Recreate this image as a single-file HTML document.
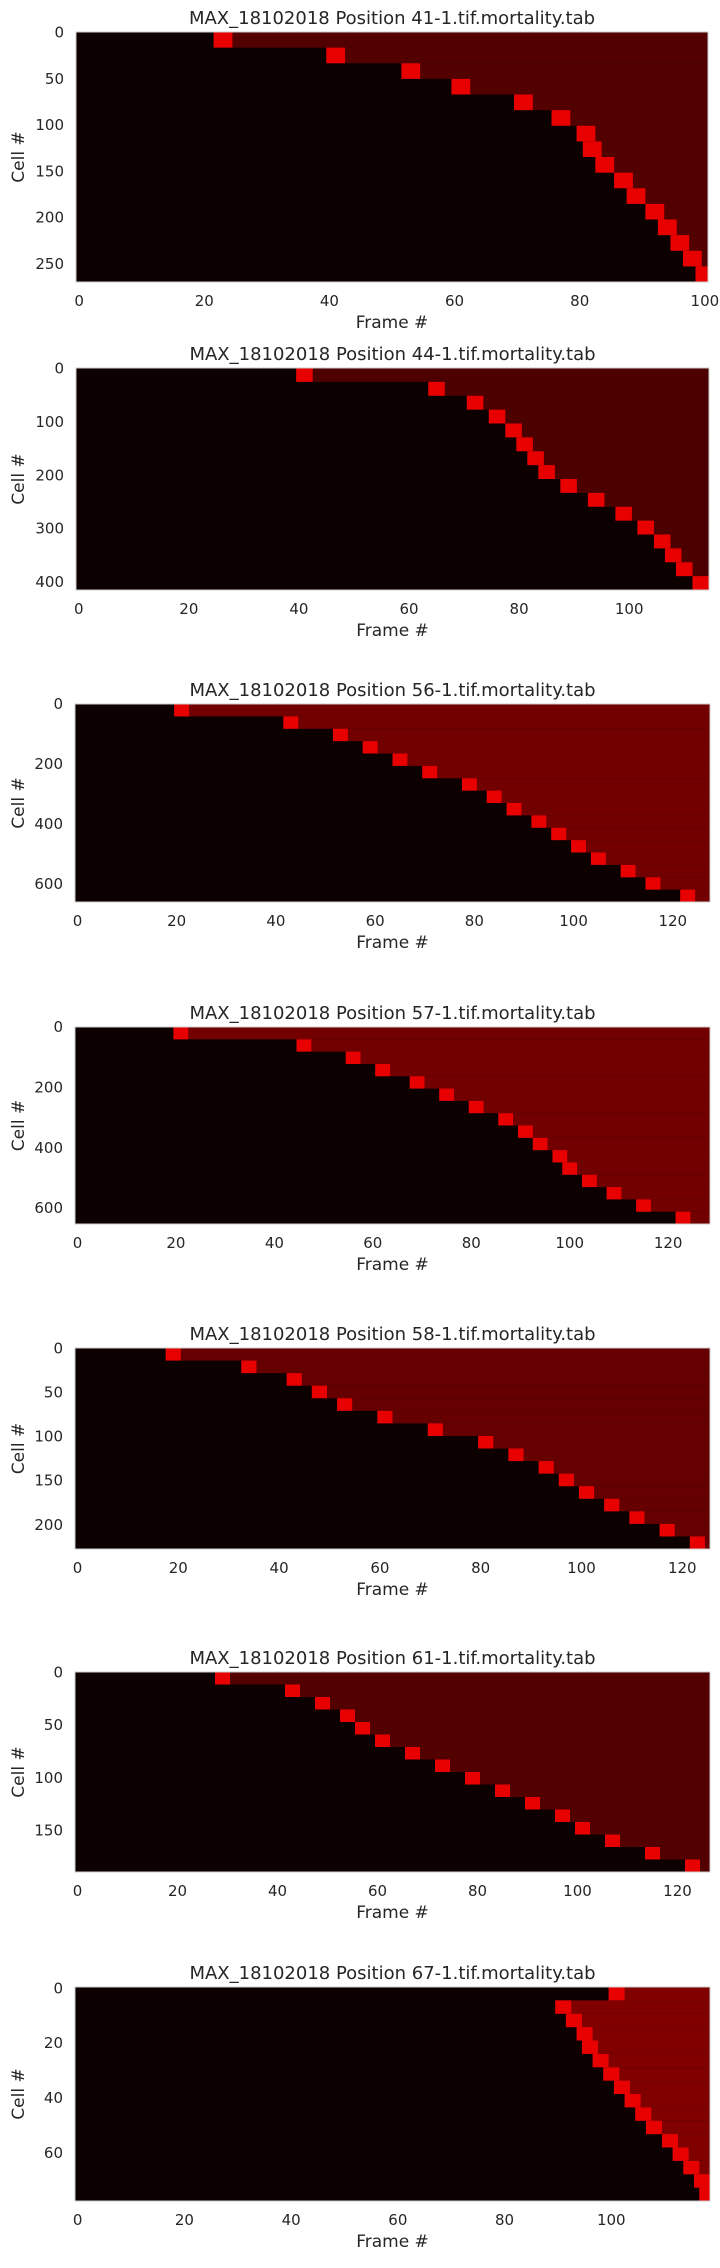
<!DOCTYPE html>
<html><head><meta charset="utf-8"><style>
html,body{margin:0;padding:0;background:#fff;}
svg{display:block;}
text{font-family:"DejaVu Sans","Liberation Sans",sans-serif;fill:#262626;}
</style></head><body>
<svg id="fig" width="720" height="2268" viewBox="0 0 720 2268" xmlns="http://www.w3.org/2000/svg"></svg>
<script>
const titles = ["MAX_18102018 Position 41-1.tif.mortality.tab","MAX_18102018 Position 44-1.tif.mortality.tab","MAX_18102018 Position 56-1.tif.mortality.tab","MAX_18102018 Position 57-1.tif.mortality.tab","MAX_18102018 Position 58-1.tif.mortality.tab","MAX_18102018 Position 61-1.tif.mortality.tab","MAX_18102018 Position 67-1.tif.mortality.tab"];
const nCells = [270,415,660,653,228,190,78];
const nFrames = [101,115,128,129,126,127,119];
const yTickStep = [50,100,200,200,50,50,20];
const postLevel = [0.32,0.3,0.45,0.45,0.4,0.32,0.5];
const p1Onsets = [22,40,52,60,70,76,80,81,83,86,88,91,93,95,97,99];
const p2Onsets = [40,64,71,75,78,80,82,84,88,93,98,102,105,107,109,112];
const p3Onsets = [20,42,52,58,64,70,78,83,87,92,96,100,104,110,115,122];
const p4Onsets = [20,45,55,61,68,74,80,86,90,93,97,99,103,108,114,122];
const p5Onsets = [18,33,42,47,52,60,70,80,86,92,96,100,105,110,116,122];
const p6Onsets = [28,42,48,53,56,60,66,72,78,84,90,96,100,106,114,122];
const p7Onsets = [100,90,92,94,95,97,99,101,103,105,107,110,112,114,116,117];
const onsets = [p1Onsets,p2Onsets,p3Onsets,p4Onsets,p5Onsets,p6Onsets,p7Onsets];

const boxes = [[76,32,708,282],[76,368,709,590],[75,704,710,902],[75,1027,710,1224],[75,1348,710,1549],[75,1672,710,1872],[75,1987,710,2201]];
const NS="http://www.w3.org/2000/svg";
const svg=document.getElementById('fig');
function mk(tag,attrs,parent){const e=document.createElementNS(NS,tag);for(const k in attrs)e.setAttribute(k,attrs[k]);(parent||svg).appendChild(e);return e;}

for(let p=0;p<7;p++){
  const [L,T,R,B]=boxes[p];
  const N=nCells[p], F=nFrames[p];
  const x=f=>L+(f+0.5)*(R-L)/F;
  const y=c=>T+(c+0.5)*(B-T)/N;
  const g=mk('g',{});
  
  
  const bg=mk('rect',{x:L,y:T,width:R-L,height:B-T,fill:'#0c0000'},g);
  
  
  const ons=onsets[p], nb=ons.length;
  const pl=Math.round(postLevel[p]*255);
  for(let i=0;i<nb;i++){
    const c0=i*N/nb-0.5, c1=(i+1)*N/nb-0.5;
    const o=ons[i];
    const post=mk('rect',{x:x(o-0.5),y:y(c0),width:Math.max(0,x(F-0.5)-x(o-0.5)),height:y(c1)-y(c0),fill:'rgb('+pl+',0,0)'},g);
    
    
    const band=mk('rect',{x:x(o-0.5),y:y(c0),width:Math.max(0,Math.min(x(o+2.5),x(F-0.5))-x(o-0.5)),height:y(c1)-y(c0),fill:'#e80000'},g);
    
    
  }
  const fr=mk('rect',{x:L,y:T,width:R-L,height:B-T,fill:'none',stroke:'#cccccc','stroke-width':1},g);
  
  
  const t=mk('text',{x:(L+R)/2,y:T-8,'text-anchor':'middle','font-size':18},g);
  t.textContent=titles[p];
  
  
  for(let v=0;v<F;v+=20){
    const tx=mk('text',{x:x(v),y:B+24,'text-anchor':'middle','font-size':15},g);
    tx.textContent=v;
    
    
  }
  for(let v=0;v<N;v+=yTickStep[p]){
    const ty=mk('text',{x:L-12,y:y(v)+5,'text-anchor':'end','font-size':15},g);
    ty.textContent=v;
    
    
  }
  const xl=mk('text',{x:(L+R)/2,y:B+46,'text-anchor':'middle','font-size':17},g);
  xl.textContent='Frame #';
  
  
  const cy=(T+B)/2;
  const yl=mk('text',{x:24,y:cy,'text-anchor':'middle','font-size':17,transform:'rotate(-90 24 '+cy+')'},g);
  yl.textContent='Cell #';
  
  
}
</script>
</body></html>
